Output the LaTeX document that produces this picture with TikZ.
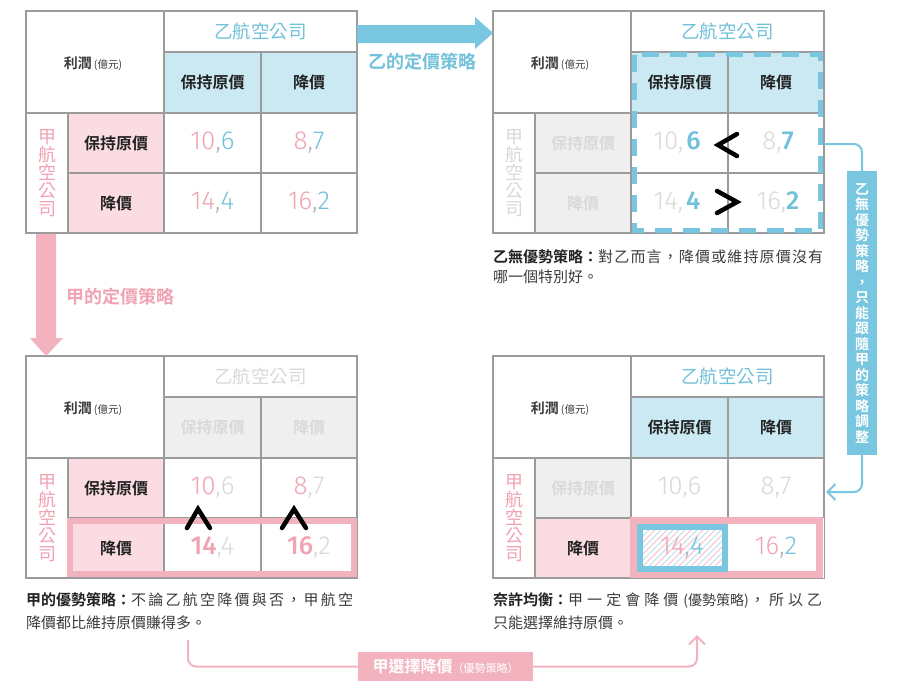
\documentclass[tikz,border=0pt]{standalone}
\usepackage{fontspec}
\setmainfont{Noto Sans CJK TC}[BoldFont={Noto Sans CJK TC Bold},Script=CJK,Language=Chinese Traditional]
\newfontfamily\numfont{Fira Sans Light}
\newfontfamily\numbold{Fira Sans Medium}
\usetikzlibrary{arrows.meta}
\definecolor{blueA}{HTML}{78C6DF}
\definecolor{blueT}{HTML}{72C1DA}
\definecolor{blueF}{HTML}{CBE9F2}
\definecolor{pinkA}{HTML}{F2B3BF}
\definecolor{pinkT}{HTML}{F0A3B2}
\definecolor{pinkF}{HTML}{FADCE2}
\definecolor{grayL}{HTML}{9B9B9B}
\definecolor{fadeF}{HTML}{EFEFEF}
\definecolor{fadeT}{HTML}{D9D9D9}
\definecolor{commaC}{HTML}{B5B5B5}
\definecolor{darkT}{HTML}{222222}
\definecolor{capT}{HTML}{3C3C3C}
\definecolor{hatchP}{HTML}{F5CCD5}
\definecolor{hatchB}{HTML}{C9E6EF}
\newcommand\NA[2]{{\numfont\color{#1}#2}}
\newcommand\NB[2]{{\numbold\color{#1}#2}}
\def\spreadchars#1{\spreadA#1\endspread}
\def\spreadA#1#2\endspread{#1\ifx\relax#2\relax\else\hfill\spreadA#2\endspread\fi}
\newcommand\tgrid{%
  \draw[grid] (0,0) rectangle (331,222);
  \draw[grid] (138,0) -- (138,222) (235,41) -- (235,222) (42,102) -- (42,222)
    (138,41) -- (331,41) (0,102) -- (331,102) (42,162) -- (331,162);}
\newcommand\tfill[3]{%
  \fill[#1] (138,41) rectangle (331,102);
  \fill[#2] (42,102) rectangle (138,162);
  \fill[#3] (42,162) rectangle (138,222);}
\newcommand\lrlabel{{\bfseries\fontsize{14}{16}\selectfont 利潤}\hspace{2pt}{\fontsize{10.5}{11}\selectfont(億元)}}
\newcommand\vcomp{甲\\航\\空\\公\\司}
\begin{document}
\begin{tikzpicture}[x=1pt,y=-1pt,
  grid/.style={draw=grayL,line width=2.5},
  hd/.style={font=\fontsize{18.5}{20}\selectfont,inner sep=0},
  sub/.style={font=\bfseries\fontsize{16}{18}\selectfont,inner sep=0},
  vcol/.style={font=\fontsize{18}{18}\selectfont,align=center,inner sep=0},
  num/.style={font=\fontsize{26}{28}\selectfont,inner sep=0},
  corner/.style={inner sep=0,text=capT},
  captxt/.style={anchor=west,inner sep=0,font=\fontsize{15}{18}\selectfont,text=capT},
  chev/.style={draw=black,line width=4.5,line cap=round,line join=miter},
  conn/.style={line width=2,rounded corners=8}]
\useasboundingbox (0,0) rectangle (900,691);
\fill[white] (0,0) rectangle (900,691);

% ---------- top-left table ----------
\begin{scope}[shift={(26,11)}]
  \tfill{blueF}{pinkF}{pinkF}
  \tgrid
  \node[corner] (tlL) at (67,53) {\lrlabel};
  \node[hd,text=blueT] (tlH) at (234.5,20.5) {乙航空公司};
  \node[sub,text=darkT] (tlS1) at (186.5,71.5) {保持原價};
  \node[sub,text=darkT] (tlS2) at (283,71.5) {降價};
  \node[vcol,text=pinkT] (tlV) at (21,162) {\vcomp};
  \node[sub,text=darkT] (tlR1) at (90,132) {保持原價};
  \node[sub,text=darkT] (tlR2) at (90,192) {降價};
  \node[num] (tlC11) at (186.5,132) {\NA{pinkT}{10}\NA{commaC}{,}\NA{blueT}{6}};
  \node[num] (tlC12) at (283,132) {\NA{pinkT}{8}\NA{commaC}{,}\NA{blueT}{7}};
  \node[num] (tlC21) at (186.5,192) {\NA{pinkT}{14}\NA{commaC}{,}\NA{blueT}{4}};
  \node[num] (tlC22) at (283,192) {\NA{pinkT}{16}\NA{commaC}{,}\NA{blueT}{2}};
\end{scope}

% ---------- top-right table ----------
\begin{scope}[shift={(493,11)}]
  \tfill{blueF}{fadeF}{fadeF}
  \tgrid
  \node[corner] (trL) at (67,53) {\lrlabel};
  \node[hd,text=blueT] (trH) at (234.5,20.5) {乙航空公司};
  \node[sub,text=darkT] (trS1) at (186.5,71.5) {保持原價};
  \node[sub,text=darkT] (trS2) at (283,71.5) {降價};
  \node[vcol,text=fadeT] (trV) at (21,162) {\vcomp};
  \node[sub,text=fadeT] (trR1) at (90,132) {保持原價};
  \node[sub,text=fadeT] (trR2) at (90,192) {降價};
  \node[num] (trC11) at (184,132) {\NA{fadeT}{10,}\hspace{3pt}\NB{blueT}{6}};
  \node[num] (trC12) at (285,132) {\NA{fadeT}{8,}\NB{blueT}{7}};
  \node[num] (trC21) at (184,192) {\NA{fadeT}{14,}\hspace{3pt}\NB{blueT}{4}};
  \node[num] (trC22) at (285,192) {\NA{fadeT}{16,}\NB{blueT}{2}};
  \draw[blueA,line width=5,dash pattern=on 17pt off 11pt] (141.5,43.5) rectangle (327.5,219.5);
  \draw[chev] (244,123) -- (225,134) -- (244,145);
  \draw[chev] (224,180) -- (244,191) -- (224,202);
\end{scope}

% ---------- bottom-left table ----------
\begin{scope}[shift={(26,356)}]
  \tfill{fadeF}{pinkF}{pinkF}
  \tgrid
  \node[corner] (blL) at (67,53) {\lrlabel};
  \node[hd,text=fadeT] (blH) at (234.5,20.5) {乙航空公司};
  \node[sub,text=fadeT] (blS1) at (186.5,71.5) {保持原價};
  \node[sub,text=fadeT] (blS2) at (283,71.5) {降價};
  \node[vcol,text=pinkT] (blV) at (21,162) {\vcomp};
  \node[sub,text=darkT] (blR1) at (90,132) {保持原價};
  \node[sub,text=darkT] (blR2) at (90,192) {降價};
  \draw[pinkA,line width=6] (44,165) rectangle (328,218);
  \node[num] (blC11) at (186.5,132) {\NA{pinkT}{10}\NA{fadeT}{,6}};
  \node[num] (blC12) at (283,132) {\NA{pinkT}{8}\NA{fadeT}{,7}};
  \node[num] (blC21) at (186.5,192) {\NB{pinkT}{14}\NA{fadeT}{,4}};
  \node[num] (blC22) at (283,192) {\NB{pinkT}{16}\NA{fadeT}{,2}};
  \draw[chev] (161,172) -- (172,153) -- (184,172);
  \draw[chev] (256,172) -- (268,153) -- (280,172);
\end{scope}

% ---------- bottom-right table ----------
\begin{scope}[shift={(493,356)}]
  \tfill{blueF}{fadeF}{pinkF}
  \tgrid
  \node[corner] (brL) at (67,53) {\lrlabel};
  \node[hd,text=blueT] (brH) at (234.5,20.5) {乙航空公司};
  \node[sub,text=darkT] (brS1) at (186.5,71.5) {保持原價};
  \node[sub,text=darkT] (brS2) at (283,71.5) {降價};
  \node[vcol,text=pinkT] (brV) at (21,162) {\vcomp};
  \node[sub,text=fadeT] (brR1) at (90,132) {保持原價};
  \node[sub,text=darkT] (brR2) at (90,192) {降價};
  \fill[white] (138,162) rectangle (331,222);
  \draw[pinkA,line width=7] (140.5,164.5) rectangle (326.5,218.5);
  \begin{scope}
    \clip (150,174) rectangle (229,210);
    \foreach \k in {-48,-36,...,84} {
      \draw[hatchP,line width=1.2] (150+\k,210) -- ++(48,-48);
      \draw[hatchB,line width=1.2] (156+\k,210) -- ++(48,-48);
    }
  \end{scope}
  \draw[blueA,line width=6] (147,171) rectangle (232,213);
  \node[num] (brC11) at (186.5,132) {\NA{fadeT}{10,6}};
  \node[num] (brC12) at (283,132) {\NA{fadeT}{8,7}};
  \node[num] (brC21) at (189,192) {\NA{pinkT}{14}\NA{commaC}{,}\NA{blueT}{4}};
  \node[num] (brC22) at (283,192) {\NA{pinkT}{16}\NA{commaC}{,}\NA{blueT}{2}};
\end{scope}

% ---------- big arrows ----------
\fill[blueA] (357,25) -- (475,25) -- (475,17) -- (493,33) -- (475,49) -- (475,43) -- (357,43) -- cycle;
\node[font=\bfseries\fontsize{18}{20}\selectfont,text=blueT,inner sep=0] (arrB) at (422,62) {乙的定價策略};
\fill[pinkA] (36,234) -- (56,234) -- (56,338) -- (63,338) -- (46,356) -- (30,338) -- (36,338) -- cycle;
\node[font=\bfseries\fontsize{18}{20}\selectfont,text=pinkT,inner sep=0] (arrA) at (120,297) {甲的定價策略};

% ---------- captions ----------
\node[captxt] (capTR1) at (493,257) {\hbox to 330pt{{\bfseries\color{darkT}乙無優勢策略：}\spreadchars{對乙而言，降價或維持原價沒有}}};
\node[captxt] (capTR2) at (493,277) {哪一個特別好。};
\node[captxt] (capBL1) at (26,600) {\hbox to 327pt{{\bfseries\color{darkT}甲的優勢策略：}\spreadchars{不論乙航空降價與否，甲航空}}};
\node[captxt] (capBL2) at (26,623) {降價都比維持原價賺得多。};
\node[captxt] (capBR1) at (493,600) {\hbox to 329pt{{\bfseries\color{darkT}奈許均衡：}\spreadchars{甲一定會降價}\hspace{1pt plus 1fill}{\fontsize{14}{15}\selectfont(優勢策略)}\hspace{0pt plus 0.3fill}\spreadchars{，所以乙}}};
\node[captxt] (capBR2) at (493,623) {只能選擇維持原價。};

% ---------- right label and connector ----------
\node[fill=blueA,minimum width=30,minimum height=284,inner sep=0,text=white,
  font=\bfseries\fontsize{14}{15.5}\selectfont,align=center] (lblR) at (862,313)
  {乙\\無\\優\\勢\\策\\略\\，\\只\\能\\跟\\隨\\甲\\的\\策\\略\\調\\整};
\coordinate (rA) at (824,144);
\coordinate (rB) at (826,492);
\draw[conn,blueA] (rA) -- (862,144) -- (lblR.north);
\draw[conn,blueA,-{Straight Barb[length=8pt,width=16pt,line width=2pt]}] (lblR.south) -- (862,492) -- (rB);

% ---------- bottom label and connector ----------
\node[fill=pinkA,minimum width=175,minimum height=29,inner sep=0,text=white] (lblB) at (445.5,666.5)
  {{\bfseries\fontsize{16}{18}\selectfont 甲選擇降價}{\fontsize{11}{12}\selectfont（優勢策略）}};
\coordinate (bA) at (188,640);
\coordinate (bB) at (697,635);
\draw[conn,pinkA] (bA) -- (188,666.5) -- (lblB.west);
\draw[conn,pinkA,-{Straight Barb[length=8pt,width=16pt,line width=2pt]}] (lblB.east) -- (697,666.5) -- (bB);
\end{tikzpicture}
\end{document}
